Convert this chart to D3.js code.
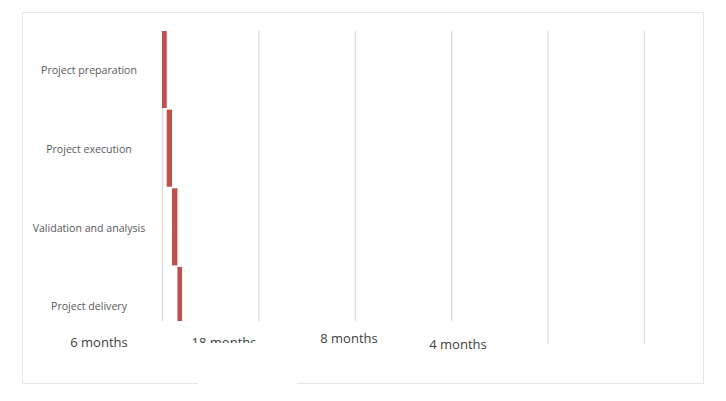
<!DOCTYPE html>
<html>
<head>
<meta charset="utf-8">
<script src="https://cdn.jsdelivr.net/npm/d3@7"></script>
<style>
  body { margin: 0; background: #fff; }
  svg text { font-family: "Open Sans", "Noto Sans", sans-serif; }
</style>
</head>
<body>
<div id="chart"></div>
<script>
// tasks and their (start, length) on the time axis
const tasks = ["Project preparation", "Project execution", "Validation and analysis", "Project delivery"];
const taskStart = [0, 4.9, 10.4, 16.0];
const taskLength = [4.9, 5.5, 5.6, 4.8];
const xTicks = [0, 100, 200, 300, 400, 500];
// duration notes typed under the chart
const durationNotes = ["6 months", "18 months", "8 months", "4 months"];

const width = 726, height = 401;
const plot = {left: 162, right: 644, top: 31, bottom: 344};

const svg = d3.select("#chart").append("svg")
    .attr("width", width)
    .attr("height", height);

// outer chart frame
svg.append("rect")
    .attr("x", 22.5).attr("y", 12.5)
    .attr("width", 681).attr("height", 371)
    .attr("fill", "#fff")
    .attr("stroke", "#e6e6e6");

const x = d3.scaleLinear()
    .domain([0, 500])
    .range([plot.left, plot.right]);

const y = d3.scaleBand()
    .domain(tasks)
    .range([plot.top, plot.bottom])
    .paddingInner(0.02);

// vertical gridlines
svg.append("g")
    .attr("transform", "translate(0," + plot.bottom + ")")
    .call(d3.axisBottom(x).tickValues(xTicks).tickSize(-(plot.bottom - plot.top)).tickFormat(""))
    .call(g => g.select(".domain").remove())
    .call(g => g.selectAll(".tick line").attr("stroke", "#dcdcdc").attr("stroke-width", 1.3));

// task labels
svg.append("g")
    .selectAll("text")
    .data(tasks)
    .enter()
    .append("text")
    .attr("x", 89)
    .attr("y", d => y(d) + y.bandwidth() / 2 + 2)
    .attr("text-anchor", "middle")
    .attr("dominant-baseline", "middle")
    .attr("font-size", 10.6)
    .attr("fill", "#595959")
    .text(d => d);

// bars
svg.append("g")
    .selectAll("rect")
    .data(tasks)
    .enter()
    .append("rect")
    .attr("x", (d, i) => x(taskStart[i]))
    .attr("y", d => y(d))
    .attr("width", (d, i) => x(taskStart[i] + taskLength[i]) - x(taskStart[i]))
    .attr("height", y.bandwidth())
    .attr("fill", "#c0504d");

// white patches pasted over the lower part of the picture
svg.append("rect")
    .attr("x", 152).attr("y", 321)
    .attr("width", 316).attr("height", 24)
    .attr("fill", "#fff");
svg.append("rect")
    .attr("x", 198).attr("y", 379)
    .attr("width", 99).attr("height", 8)
    .attr("fill", "#fff");

// hand placed duration notes
const noteSpots = [[99, 347], [224, 347], [349, 343], [458, 349]];

svg.append("clipPath")
    .attr("id", "noteClip")
    .append("rect")
    .attr("x", 150).attr("y", 300)
    .attr("width", 140).attr("height", 43);

svg.append("g")
    .selectAll("text")
    .data(durationNotes)
    .enter()
    .append("text")
    .attr("x", (d, i) => noteSpots[i][0])
    .attr("y", (d, i) => noteSpots[i][1])
    .attr("text-anchor", "middle")
    .attr("font-size", 13)
    .attr("fill", "#404040")
    .attr("clip-path", (d, i) => i == 1 ? "url(#noteClip)" : null)
    .text(d => d);
</script>
</body>
</html>
